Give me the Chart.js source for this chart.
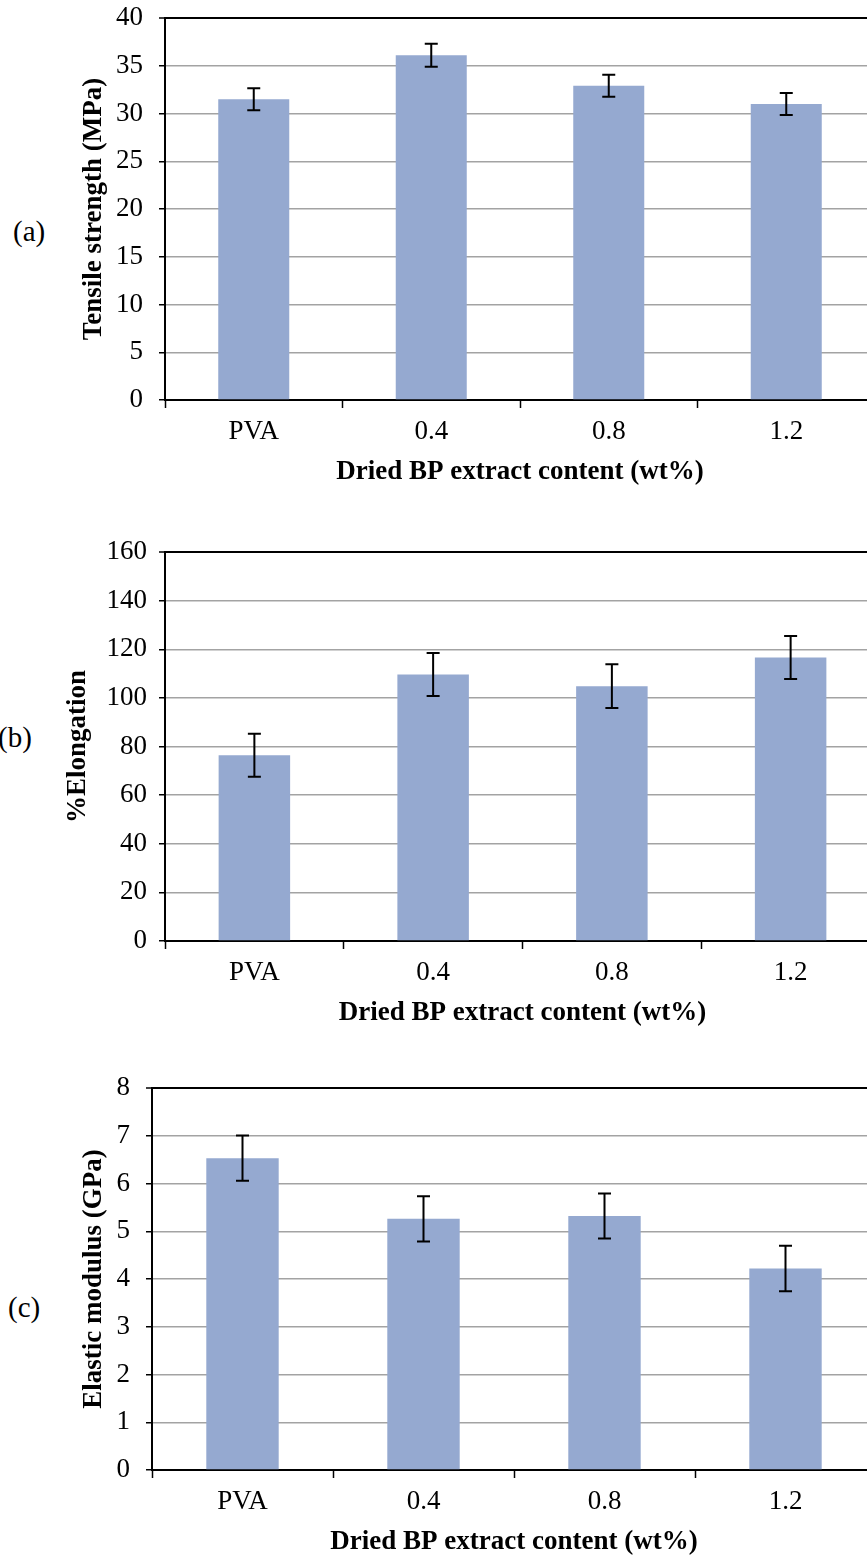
<!DOCTYPE html>
<html>
<head>
<meta charset="utf-8">
<script src="https://cdn.jsdelivr.net/npm/chart.js@4.4.1/dist/chart.umd.min.js"></script>
<style>
  body { margin: 0; width: 867px; height: 1556px; overflow: hidden; background: #fff; position: relative; }
  .panel { position: absolute; left: 0; }
  .tag { position: absolute; font-family: "Liberation Serif", "Times New Roman", serif; font-size: 29px; line-height: 1; color: #000; }
</style>
</head>
<body>

<div class="tag" style="left:13px; top:217px;">(a)</div>
<div class="tag" style="left:-2px; top:723px;">(b)</div>
<div class="tag" style="left:8px; top:1293px;">(c)</div>

<canvas id="chartA" class="panel" width="884" height="491" style="top:0px;"></canvas>
<canvas id="chartB" class="panel" width="884" height="502" style="top:530px;"></canvas>
<canvas id="chartC" class="panel" width="884" height="496" style="top:1065px;"></canvas>

<script>
// Mechanical properties of the films vs. extract content
var categories = ['PVA', '0.4', '0.8', '1.2'];

var tensileStrength = [31.5, 36.1, 32.9, 31.0];
var tensileError = [1.15, 1.2, 1.15, 1.15];

var elongation = [76.4, 109.6, 104.8, 116.6];
var elongationError = [8.85, 8.85, 9.0, 8.85];

var elasticModulus = [6.53, 5.26, 5.32, 4.22];
var modulusError = [0.475, 0.475, 0.47, 0.475];

var xTitle = 'Dried BP extract content (wt%)';
var barColour = '#95A9D0';

Chart.defaults.font.family = '"Liberation Serif", "Times New Roman", serif';
Chart.defaults.color = '#000';

// Draws the +/- error bars on top of each bar
var errorBarPlugin = {
    id: 'errorBars',
    afterDatasetsDraw: function(chart, args, opts) {
        var ctx = chart.ctx;
        var yScale = chart.scales.y;
        var meta = chart.getDatasetMeta(0);
        var values = chart.data.datasets[0].data;
        ctx.save();
        ctx.strokeStyle = '#000';
        ctx.lineWidth = 2;
        for (var i = 0; i < values.length; i++) {
            var x = meta.data[i].x;
            var top = yScale.getPixelForValue(values[i] + opts.errors[i]);
            var bottom = yScale.getPixelForValue(values[i] - opts.errors[i]);
            ctx.beginPath();
            ctx.moveTo(x, top);
            ctx.lineTo(x, bottom);
            // caps
            ctx.moveTo(x - 6.5, top);
            ctx.lineTo(x + 6.5, top);
            ctx.moveTo(x - 6.5, bottom);
            ctx.lineTo(x + 6.5, bottom);
            ctx.stroke();
        }
        ctx.restore();
    }
};

function makeChart(canvasId, values, errors, yLabel, yMax, yStep, layout) {
    var ctx = document.getElementById(canvasId).getContext('2d');
    return new Chart(ctx, {
        type: 'bar',
        data: {
            labels: categories,
            datasets: [{
                data: values,
                backgroundColor: barColour,
                borderWidth: 0,
                barPercentage: 0.4,
                categoryPercentage: 1.0
            }]
        },
        options: {
            responsive: false,
            animation: false,
            layout: {
                padding: { left: layout.left, right: layout.right, top: layout.top, bottom: 3 }
            },
            plugins: {
                legend: { display: false },
                tooltip: { enabled: false },
                errorBars: { errors: errors }
            },
            scales: {
                x: {
                    grid: {
                        drawOnChartArea: false,
                        tickLength: 8,
                        tickColor: '#000',
                        tickWidth: 1.5
                    },
                    border: { color: '#000', width: 2 },
                    ticks: { padding: 8, font: { size: 27 } },
                    title: {
                        display: true,
                        text: xTitle,
                        font: { size: 27, weight: 'bold' },
                        padding: { top: 0, bottom: 0 }
                    },
                    afterFit: function(scale) { scale.height = 88; }
                },
                y: {
                    min: 0,
                    max: yMax,
                    grid: {
                        color: function(c) { return c.tick && c.tick.value === yMax ? '#000' : '#a3a3a3'; },
                        lineWidth: function(c) { return c.tick && c.tick.value === yMax ? 2 : 1.5; },
                        tickLength: 6,
                        tickColor: '#000',
                        tickWidth: 1.5
                    },
                    border: { color: '#000', width: 2 },
                    ticks: { stepSize: yStep, padding: layout.tickPad, font: { size: 27 } },
                    title: {
                        display: true,
                        text: yLabel,
                        font: { size: 27, weight: 'bold' },
                        padding: { top: 8, bottom: 0 }
                    },
                    afterFit: function(scale) {
                        // fixed axis position, and no extra room for the end labels
                        scale.width = layout.axisX - layout.left;
                        scale.paddingTop = 0;
                        scale.paddingBottom = 0;
                    }
                }
            }
        },
        plugins: [errorBarPlugin]
    });
}

makeChart('chartA', tensileStrength, tensileError, 'Tensile strength (MPa)', 40, 5,
    { left: 70, right: 9, top: 18, axisX: 165, tickPad: 16 });
makeChart('chartB', elongation, elongationError, '%Elongation', 160, 20,
    { left: 54, right: 4, top: 22, axisX: 165, tickPad: 12 });
makeChart('chartC', elasticModulus, modulusError, 'Elastic modulus (GPa)', 8, 1,
    { left: 70, right: 8, top: 23, axisX: 152, tickPad: 16 });
</script>
</body>
</html>
